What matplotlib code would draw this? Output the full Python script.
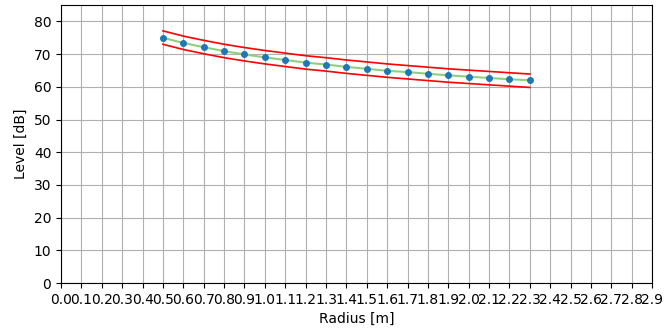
import numpy as np
import matplotlib
matplotlib.use("Agg")
import matplotlib.pyplot as plt

# Measured level versus distance from the source
radius = [0.5, 0.6, 0.7, 0.8, 0.9, 1.0, 1.1, 1.2, 1.3, 1.4,
          1.5, 1.6, 1.7, 1.8, 1.9, 2.0, 2.1, 2.2, 2.3]
level = [75.0, 73.4, 72.1, 70.9, 69.9, 69.0, 68.2, 67.4, 66.8, 66.1,
         65.5, 64.9, 64.5, 64.0, 63.5, 63.1, 62.7, 62.3, 62.0]
# Tolerance band around the measured level
upper = [77.1, 75.5, 74.2, 73.0, 72.0, 71.1, 70.3, 69.5, 68.9, 68.2,
         67.6, 67.0, 66.5, 66.0, 65.5, 65.1, 64.7, 64.3, 63.9]
lower = [73.0, 71.4, 70.1, 68.9, 67.9, 67.0, 66.2, 65.4, 64.8, 64.1,
         63.5, 62.9, 62.4, 61.9, 61.4, 61.0, 60.6, 60.2, 59.8]

xticks = [round(0.1 * i, 1) for i in range(30)]
yticks = [0, 10, 20, 30, 40, 50, 60, 70, 80]

fig = plt.figure(figsize=(6.64, 3.35), dpi=100)
ax = fig.add_axes([0.092, 0.155, 0.890, 0.830])

ax.plot(radius, upper, color="red", lw=1.2)
ax.plot(radius, lower, color="red", lw=1.2)
ax.plot(radius, level, color="#8fcf7f", lw=1.5)
ax.plot(radius, level, "o", color="#1f77b4", ms=4)

ax.set_xlim(0, 2.9)
ax.set_ylim(0, 85)
ax.set_xticks(xticks)
ax.set_xticklabels([f"{t:.1f}" for t in xticks])
ax.set_yticks(yticks)
ax.grid(True, color="#b0b0b0", lw=0.8)
ax.set_axisbelow(True)
ax.set_xlabel("Radius [m]")
ax.set_ylabel("Level [dB]")

fig.savefig("out.png", dpi=100)
